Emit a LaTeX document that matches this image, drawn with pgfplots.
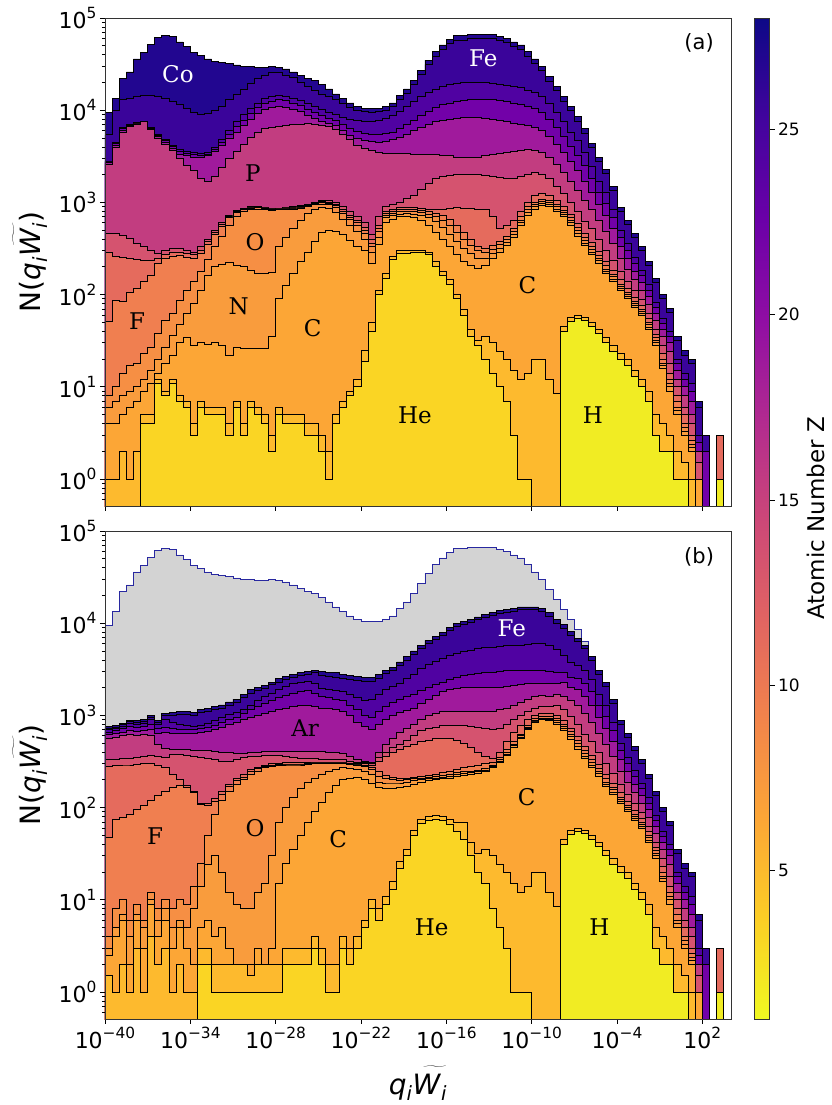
\documentclass[border=0pt]{standalone}
\usepackage{fontspec}
\setmainfont{DejaVu Sans}[ItalicFont={DejaVu Sans Oblique}]
\newfontfamily\serif{DejaVu Serif}
\usepackage{pgfplots}
\usepackage{pgfplotstable}
\pgfplotsset{compat=1.18}

\definecolor{cT}{RGB}{34,6,144}
\definecolor{cFE}{RGB}{58,4,154}
\definecolor{cMN}{RGB}{80,2,162}
\definecolor{cTI}{RGB}{114,1,168}
\definecolor{cCA}{RGB}{160,26,156}
\definecolor{cP}{RGB}{194,61,128}
\definecolor{cSI}{RGB}{213,83,111}
\definecolor{cNE}{RGB}{229,107,93}
\definecolor{cF}{RGB}{240,127,80}
\definecolor{cO}{RGB}{246,143,68}
\definecolor{cN}{RGB}{249,156,61}
\definecolor{cC}{RGB}{252,166,54}
\definecolor{cB}{RGB}{253,186,46}
\definecolor{cHE}{RGB}{250,213,36}
\definecolor{cH}{RGB}{241,236,35}
\definecolor{cGray}{RGB}{211,211,211}
\definecolor{cBlue}{RGB}{40,40,160}

\newcommand{\tenpow}[1]{10\raisebox{0.45em}{\fontsize{15.4}{15.4}\selectfont #1}}
\newcommand{\Wt}{\rlap{\raisebox{0.05em}{\scalebox{1.55}[1.15]{$\widetilde{\hbox{\phantom{\textit{W}}}}$}}}\textit{W}\textsubscript{\textit{i}}}
\newcommand{\qw}{\textit{q}\textsubscript{\textit{i}}\Wt}
\newcommand{\layer}[3]{\addplot[const plot mark left, fill=#2, draw=black, line width=0.8pt] table[x=X,y=#1]{#3} -- cycle;}
\tikzset{elab/.style={font=\serif\fontsize{23}{23}\selectfont}}

\pgfplotstableread{
X H HE B C N O F NE SI P CA TI MN FE T
-40.0 0.1 0.1 0.1 0.1 0.1 0.1 0.1 0.1 0.1 0.1 0.1 0.1 0.1 0.1 0.1
-40.0 0.1 0.1 1 4 6 8 51 290 460 2600 2700 2750 2800 5400 9500
-39.5 0.1 0.1 1 4 7 10 87 260 460 4000 4200 4350 4500 10000 13500
-39.0 0.1 0.1 2 5 8 14 85 255 440 5800 6100 6300 6500 13000 22000
-38.5 0.1 0.1 1 6 9 17 107 250 410 6600 6800 6900 7000 13500 26000
-38.0 0.1 0.1 2 7 10 18 116 240 360 7100 7250 7300 7400 14000 36000
-37.5 0.1 4 5 9 12 23 138 235 330 7500 7550 7580 7600 14500 42000
-37.0 0.1 4 5 11 15 27 163 235 300 6200 6350 6400 6500 14500 52000
-36.5 0.1 11 12 14 20 38 218 250 280 5000 5200 5350 5500 14000 62000
-36.0 0.1 8 9 18 27 53 247 270 300 4300 4500 4650 4800 13500 65000
-35.5 0.1 11 12 22 36 63 260 285 320 3700 3900 4050 4200 12500 63000
-35.0 0.1 7 8 30 48 87 265 290 320 3000 3300 3550 3800 11500 55000
-34.5 0.1 6 7 34 62 110 255 280 300 2500 3200 3400 3600 10500 49000
-34.0 0.1 3 4 28 80 140 250 275 290 2200 3100 3300 3500 9500 42000
-33.5 0.1 6 7 30 110 180 280 305 330 1800 3100 3250 3400 9100 39000
-33.0 0.1 5 6 29 160 240 350 375 400 1670 3200 3350 3500 9300 36000
-32.5 0.1 5 6 30 200 330 450 475 500 1900 3600 3800 4000 10000 34000
-32.0 0.1 5 6 28 215 430 550 575 600 2400 4200 4500 4800 11000 33000
-31.5 0.1 3 4 22 225 560 680 700 720 3000 5000 5500 6000 13000 32000
-31.0 0.1 6 7 27 210 700 780 800 820 3600 5800 6600 7500 15000 31000
-30.5 0.1 3 4 26 200 790 830 845 860 4300 6800 7800 9000 17000 30000
-30.0 0.1 6 7 26 185 840 870 885 900 5100 8000 9200 10500 19500 29500
-29.5 0.1 5 6 26 170 850 880 890 900 5800 9200 10600 12000 22000 29000
-29.0 0.1 4 5 26 170 830 860 870 880 6300 10200 11800 13500 24000 29000
-28.5 0.1 2 3 35 175 810 840 850 860 6500 10800 12600 14200 25500 29500
-28.0 0.1 5 6 90 330 830 850 860 870 6700 11000 13000 14500 25500 29000
-27.5 0.1 4 5 125 420 830 850 870 880 6800 10800 12700 14200 24000 28000
-27.0 0.1 4 5 170 520 850 870 890 900 7000 10300 12000 13500 22500 26000
-26.5 0.1 4 5 230 640 870 890 910 920 7100 9600 11200 12800 20000 24000
-26.0 0.1 3 4 290 760 900 930 950 960 7200 8800 10300 12000 18000 22000
-25.5 0.1 3 4 380 850 940 970 990 1000 7100 8200 9500 11000 16600 21000
-25.0 0.1 2 3 470 880 960 990 1020 1050 6900 7600 8800 10200 15000 19000
-24.5 0.1 1 2 500 870 950 980 1010 1050 6600 7200 8200 9500 14000 17000
-24.0 0.1 4 5 490 780 880 920 960 1000 6200 6800 7700 8900 13000 15000
-23.5 0.1 6 7 450 660 760 800 850 900 5500 6000 7000 8400 11800 13500
-23.0 0.1 8 9 390 560 650 690 730 800 4800 5300 6300 8000 10800 12000
-22.5 0.1 10 12 330 480 560 600 640 700 4200 4900 5900 7800 10000 11000
-22.0 0.1 19 25 300 400 460 500 530 600 3900 4700 5600 7600 9600 10500
-21.5 0.1 40 50 220 290 330 360 400 450 3700 4600 5500 7600 9500 10500
-21.0 0.1 100 110 350 420 480 520 560 700 3500 4500 5500 7800 9600 10500
-20.5 0.1 150 170 600 680 720 760 800 900 3400 4600 5600 8200 10000 11000
-20.0 0.1 240 260 660 720 760 800 850 950 3400 4800 5800 8800 11000 12000
-19.5 0.1 280 300 700 750 790 830 880 1000 3400 5100 6300 9800 13100 14600
-19.0 0.1 280 300 700 760 800 840 890 1100 3400 5500 7000 11000 15300 17000
-18.5 0.1 285 300 680 740 790 830 880 1200 3300 6000 7800 12500 18900 21000
-18.0 0.1 285 300 640 720 770 810 860 1400 3300 6500 8800 14000 24300 27000
-17.5 0.1 270 290 560 680 740 790 840 1600 3300 7000 9800 15500 31500 35000
-17.0 0.1 200 230 470 620 700 760 830 1800 3300 7500 10800 17000 38700 43000
-16.5 0.1 160 180 400 540 640 720 850 1900 3200 7800 11500 18000 45900 51000
-16.0 0.1 130 145 330 450 560 650 870 1950 3200 8000 12000 19000 53100 59000
-15.5 0.1 90 100 270 380 470 560 880 2000 3100 8200 12500 19500 57600 64000
-15.0 0.1 60 70 230 320 400 470 870 2000 3100 8300 12700 20000 57600 64000
-14.5 0.1 35 42 205 280 340 400 860 2000 3100 8400 13000 20000 59400 66000
-14.0 0.1 28 32 193 250 300 330 850 2000 3100 8300 13000 20000 59400 66000
-13.5 0.1 20 35 210 250 290 320 840 1950 3200 8200 13000 20000 59400 66000
-13.0 0.1 14 30 250 280 310 340 700 1900 3300 8000 13000 19500 59400 66000
-12.5 0.1 10 24 290 320 350 380 520 1850 3400 7800 12800 19000 56700 63000
-12.0 0.1 7 20 340 370 400 430 560 1800 3500 7500 12500 18500 54000 60000
-11.5 0.1 3 15 420 450 480 520 640 1800 3600 7200 12000 18000 49500 55000
-11.0 0.1 1 12 560 600 640 700 800 1900 3700 7000 11500 17500 45900 51000
-10.5 0.1 1 14 730 780 830 900 1000 2000 3800 6800 11000 16500 38700 43000
-10.0 0.1 0.1 20 850 900 950 1000 1200 2100 3700 6500 10500 15500 32400 36000
-9.5 0.1 0.1 20 920 970 1020 1080 1250 2000 3500 6000 9500 14000 27000 30000
-9.0 0.1 0.1 12 900 950 1000 1050 1200 1800 3100 5200 8000 12000 20700 23000
-8.5 0.1 0.1 8.5 800 850 900 950 1050 1500 2600 4300 6500 9500 16200 18000
-8.0 40 40 45 700 740 780 820 900 1250 2100 3500 5200 7500 12600 14000
-7.5 51 51 56 560 600 640 680 740 1000 1700 2800 4100 5800 9900 11000
-7.0 55 55 60 430 460 500 540 590 800 1350 2200 3200 4700 7650 8500
-6.5 52 52 57 340 360 390 420 460 620 1050 1700 2500 3500 5670 6300
-6.0 45 45 50 270 290 310 330 370 520 850 1300 1800 2450 3950 4400
-5.5 38 38 42 220 235 250 265 295 400 640 950 1300 1700 2800 3100
-5.0 30 30 34 170 180 190 205 230 300 480 720 980 1280 2050 2300
-4.5 24 24 28 140 148 156 166 185 235 360 520 680 830 1350 1500
-4.0 20 20 23 110 116 122 130 145 180 250 330 420 500 800 890
-3.5 17 17 20 90 95 100 106 117 140 190 245 300 355 575 640
-3.0 13 13 15 72 76 80 85 93 110 145 180 220 255 415 460
-2.5 10 10 12 60 63 66 70 76 88 110 135 160 185 300 330
-2.0 7 7 9 42 44 47 50 55 63 78 95 112 128 207 230
-1.5 3 3 5 28 30 32 34 37 42 52 62 73 83 135 150
-1.0 2 2 4 16 17 18 20 23 28 35 42 49 55 90 100
-0.5 2 2 3 9 10 11 12 14 18 24 30 35 40 64 71
0.0 1 1 2 5 5.5 6 7 8 10 12 15 18 20 32 35
0.5 1 1 1.5 3 3.3 3.6 4 5 6 8 10 12 14 22 25
1.0 0.1 0.1 1 2 2.2 2.4 2.6 3 4 5 7 9 11 18 20
1.5 0.1 0.1 0.1 1 1 1 1 1 1.5 2 2 2.5 3 6 7
2.0 0.1 0.1 0.1 0.1 0.1 0.1 0.1 0.1 0.1 0.1 0.1 2 2 3 3
2.5 0.1 0.1 0.1 0.1 0.1 0.1 0.1 0.1 0.1 0.1 0.1 0.1 0.1 0.1 0.1
3.0 1 1 1 1 1 1 1 3 3 3 3 3 3 3 3
3.5 0.1 0.1 0.1 0.1 0.1 0.1 0.1 0.1 0.1 0.1 0.1 0.1 0.1 0.1 0.1
}\tabA

\pgfplotstableread{
X H HE B C N O F NE SI P CA TI MN FE T G
-40.0 0.1 0.1 0.1 0.1 0.1 0.1 0.1 0.1 0.1 0.1 0.1 0.1 0.1 0.1 0.1 0.1
-40.0 0.1 0.1 1.5 2.5 3 4 47 280 330 560 620 660 700 730 760 9500
-39.5 0.1 0.1 1 4 5 8 74 285 335 580 640 690 720 750 780 13500
-39.0 0.1 0.1 2 6 7 10 78 290 340 600 660 720 760 790 820 22000
-38.5 0.1 0.1 1 2 4 6 85 290 345 620 690 760 820 860 890 26000
-38.0 0.1 0.1 3 6 7 9 95 295 350 610 670 740 800 840 880 36000
-37.5 0.1 0.1 1 3 5 6 105 300 360 620 680 760 820 860 900 42000
-37.0 0.1 0.1 4 9 10 12 120 300 370 600 700 790 900 950 1000 52000
-36.5 0.1 0.1 2 4 6 8 135 290 360 480 640 720 800 840 880 62000
-36.0 0.1 0.1 3 6 8 10 150 270 350 440 650 750 900 1000 1050 65000
-35.5 0.1 0.1 1 3 5 8 165 230 375 430 640 720 850 1000 1070 63000
-35.0 0.1 0.1 2 5 6 10 175 200 375 425 640 700 800 1020 1100 55000
-34.5 0.1 0.1 1 3 5 9 165 175 370 425 640 700 770 1020 1100 49000
-34.0 0.1 0.1 1 2 8 14 145 150 360 420 640 700 760 1000 1080 42000
-33.5 0.1 2 3 5 14 25 108 112 350 420 650 720 770 1070 1150 39000
-33.0 0.1 2 3 6 24 50 105 110 340 420 670 740 820 1110 1200 36000
-32.5 0.1 1 2 4 30 85 118 125 330 410 700 780 880 1160 1250 34000
-32.0 0.1 1 2 5 20 120 140 150 320 400 740 840 950 1200 1300 33000
-31.5 0.1 1 2 3 12 150 170 180 320 395 790 900 1020 1300 1400 32000
-31.0 0.1 1 2 2 9 180 195 205 330 390 840 960 1080 1400 1500 31000
-30.5 0.1 1 2 2 8 200 215 230 350 390 900 1050 1150 1580 1700 30000
-30.0 0.1 1 1.5 2 8 230 245 260 360 400 950 1150 1300 1750 1900 29500
-29.5 0.1 1 2 3 12 250 265 275 360 400 1000 1250 1450 1850 2000 29000
-29.0 0.1 1 2 2 15 270 280 290 365 405 1050 1350 1600 1950 2100 29000
-28.5 0.1 1 2 3 30 280 290 300 370 410 1100 1450 1750 2150 2300 29500
-28.0 0.1 1 2 15 70 285 295 305 370 410 1150 1550 1900 2300 2500 29000
-27.5 0.1 2 3 25 100 290 298 306 360 410 1200 1650 2050 2450 2650 28000
-27.0 0.1 2 3 35 130 290 298 306 350 410 1250 1750 2200 2600 2800 26000
-26.5 0.1 2 3 50 160 290 298 306 340 410 1270 1800 2300 2700 2900 24000
-26.0 0.1 2 3 70 190 295 302 310 340 410 1280 1850 2350 2800 3000 22000
-25.5 0.1 3 4 90 210 300 305 312 340 410 1250 1750 2200 2900 3100 21000
-25.0 0.1 2 3 115 230 300 305 312 335 405 1200 1600 1950 2700 3000 19000
-24.5 0.1 1 2 145 250 300 305 310 330 400 1180 1550 1900 2650 2950 17000
-24.0 0.1 1 2 175 260 300 305 310 330 400 1150 1500 1850 2600 2900 15000
-23.5 0.1 3 4 200 270 300 305 310 330 390 1100 1450 1800 2550 2800 13500
-23.0 0.1 2 3 210 265 295 300 305 320 360 1000 1300 1700 2450 2700 12000
-22.5 0.1 3 4 215 260 290 295 300 310 330 850 1150 1550 2400 2650 11000
-22.0 0.1 5 6 200 250 280 290 300 310 320 760 1000 1450 2350 2600 10500
-21.5 0.1 8 10 185 230 260 275 290 300 310 700 950 1500 2350 2600 10500
-21.0 0.1 6 8 165 190 220 250 320 350 400 800 1100 1700 2550 2800 10500
-20.5 0.1 9 11 160 185 205 225 360 400 480 900 1250 1900 2850 3100 11000
-20.0 0.1 13 16 160 185 200 215 400 450 560 1000 1400 2050 3050 3300 12000
-19.5 0.1 22 26 165 185 195 205 430 490 650 1070 1500 2200 3500 3800 14600
-19.0 0.1 30 35 170 190 200 210 460 540 720 1120 1600 2500 4000 4400 17000
-18.5 0.1 50 56 180 195 205 215 490 600 800 1200 1700 2800 4600 5000 21000
-18.0 0.1 68 75 190 200 210 220 520 680 900 1350 1850 3200 5300 5700 27000
-17.5 0.1 72 80 195 205 215 225 540 720 1000 1500 2000 3600 6000 6500 35000
-17.0 0.1 74 82 200 210 220 230 560 750 1050 1650 2150 3900 6700 7200 43000
-16.5 0.1 72 80 205 215 225 240 570 770 1100 1800 2300 4200 7400 8000 51000
-16.0 0.1 66 74 210 220 230 250 560 780 1100 1900 2450 4500 8400 9000 59000
-15.5 0.1 55 70 220 230 240 260 540 780 1100 1950 2600 4700 9300 10000 64000
-15.0 0.1 45 70 225 235 245 270 500 770 1100 2000 2700 4900 9800 10500 64000
-14.5 0.1 30 42 230 240 250 280 450 760 1100 2000 2800 5100 10300 11000 66000
-14.0 0.1 20 32 235 245 255 290 400 740 1100 2000 2850 5300 10900 11700 66000
-13.5 0.1 15 35 245 255 265 300 360 720 1100 2000 2900 5400 11600 12500 66000
-13.0 0.1 8 30 270 280 290 310 340 700 1100 2000 2950 5500 12100 13000 66000
-12.5 0.1 5 24 310 320 330 350 400 720 1150 2000 3000 5600 12700 13700 63000
-12.0 0.1 3 20 370 380 400 430 520 800 1200 2050 3050 5700 13200 14200 60000
-11.5 0.1 1 15 450 470 490 520 650 900 1300 2100 3100 5800 13500 14500 55000
-11.0 0.1 1 12 560 580 600 630 780 1000 1400 2150 3100 5800 14000 15000 51000
-10.5 0.1 1 14 700 720 740 770 900 1100 1500 2200 3100 5900 14000 15000 43000
-10.0 0.1 0.1 20 850 870 890 920 1000 1200 1600 2250 3100 6000 14000 15000 36000
-9.5 0.1 0.1 20 900 920 940 970 1050 1250 1650 2250 3050 6100 13500 14500 30000
-9.0 0.1 0.1 12 880 910 940 980 1050 1250 1600 2200 3000 5800 12000 13000 23000
-8.5 0.1 0.1 8.5 790 840 880 930 1000 1300 1700 2200 2900 5200 10000 11000 18000
-8.0 40 40 45 680 720 760 800 880 1150 1600 2300 2900 4500 8800 9600 14000
-7.5 51 51 56 550 590 630 670 730 980 1450 2000 2600 3800 7400 8100 11000
-7.0 55 55 60 430 460 500 540 590 800 1300 1900 2500 3500 6300 6900 8500
-6.5 52 52 57 340 360 390 420 460 620 1050 1600 2200 3100 5300 5800 6300
-6.0 45 45 50 270 290 310 330 370 520 850 1300 1800 2450 3950 4400 4400
-5.5 38 38 42 220 235 250 265 295 400 640 950 1300 1700 2800 3100 3100
-5.0 30 30 34 170 180 190 205 230 300 480 720 980 1280 2050 2300 2300
-4.5 24 24 28 140 148 156 166 185 235 360 520 680 830 1350 1500 1500
-4.0 20 20 23 110 116 122 130 145 180 250 330 420 500 800 890 890
-3.5 17 17 20 90 95 100 106 117 140 190 245 300 355 575 640 640
-3.0 13 13 15 72 76 80 85 93 110 145 180 220 255 415 460 460
-2.5 10 10 12 60 63 66 70 76 88 110 135 160 185 300 330 330
-2.0 7 7 9 42 44 47 50 55 63 78 95 112 128 207 230 230
-1.5 3 3 5 28 30 32 34 37 42 52 62 73 83 135 150 150
-1.0 2 2 4 16 17 18 20 23 28 35 42 49 55 90 100 100
-0.5 2 2 3 9 10 11 12 14 18 24 30 35 40 64 71 71
0.0 1 1 2 5 5.5 6 7 8 10 12 15 18 20 32 35 35
0.5 1 1 1.5 3 3.3 3.6 4 5 6 8 10 12 14 22 25 25
1.0 0.1 0.1 1 2 2.2 2.4 2.6 3 4 5 7 9 11 18 20 20
1.5 0.1 0.1 0.1 1 1 1 1 1 1.5 2 2 2.5 3 6 7 7
2.0 0.1 0.1 0.1 0.1 0.1 0.1 0.1 0.1 0.1 0.1 0.1 2 2 3 3 3
2.5 0.1 0.1 0.1 0.1 0.1 0.1 0.1 0.1 0.1 0.1 0.1 0.1 0.1 0.1 0.1 0.1
3.0 1 1 1 1 1 1 1 3 3 3 3 3 3 3 3 3
3.5 0.1 0.1 0.1 0.1 0.1 0.1 0.1 0.1 0.1 0.1 0.1 0.1 0.1 0.1 0.1 0.1
}\tabB

\begin{document}
\begin{tikzpicture}
\useasboundingbox (-105pt,18pt) rectangle (726pt,-1087pt);

% ---------- panel (a)
\begin{axis}[at={(0pt,0pt)}, anchor=north west, scale only axis, width=626pt, height=488pt,
    xmin=-40, xmax=4.02, ymode=log, ymin=0.51, ymax=1e5,
    enlargelimits=false, axis on top, clip=true,
    xtick={-40,-34,-28,-22,-16,-10,-4,2}, xticklabels={},
    ytick={1,10,100,1000,10000,100000},
    yticklabels={\tenpow{0},\tenpow{1},\tenpow{2},\tenpow{3},\tenpow{4},\tenpow{5}},
    minor ytick={0.6,0.7,0.8,0.9,2,3,4,5,6,7,8,9,20,30,40,50,60,70,80,90,200,300,400,500,600,700,800,900,2000,3000,4000,5000,6000,7000,8000,9000,20000,30000,40000,50000,60000,70000,80000,90000},
    tick pos=left, tick align=outside,
    major tick length=5pt, minor tick length=3pt,
    every tick/.style={black, line width=0.8pt},
    axis line style={black!80, line width=0.8pt},
    ticklabel style={font=\fontsize{22}{22}\selectfont},
    ylabel={N(\qw)},
    ylabel style={font=\fontsize{28}{28}\selectfont, at={(axis description cs:-0.12,0.5)}, anchor=center}]
\layer{T}{cT}{\tabA}
\layer{FE}{cFE}{\tabA}
\layer{MN}{cMN}{\tabA}
\layer{TI}{cTI}{\tabA}
\layer{CA}{cCA}{\tabA}
\layer{P}{cP}{\tabA}
\layer{SI}{cSI}{\tabA}
\layer{NE}{cNE}{\tabA}
\layer{F}{cF}{\tabA}
\layer{O}{cO}{\tabA}
\layer{N}{cN}{\tabA}
\layer{C}{cC}{\tabA}
\layer{B}{cB}{\tabA}
\layer{HE}{cHE}{\tabA}
\layer{H}{cH}{\tabA}
\node[elab, text=white] at (axis cs:-34.87,24600) {Co};
\node[elab, text=white] at (axis cs:-13.4,37000) {Fe};
\node[elab] at (axis cs:-29.6,2100) {P};
\node[elab] at (axis cs:-29.45,370) {O};
\node[elab] at (axis cs:-30.6,74) {N};
\node[elab] at (axis cs:-37.75,51) {F};
\node[elab] at (axis cs:-25.4,43) {C};
\node[elab] at (axis cs:-18.2,4.9) {He};
\node[elab] at (axis cs:-10.3,127) {C};
\node[elab] at (axis cs:-5.7,4.9) {H};
\node[font=\fontsize{21}{21}\selectfont] at (rel axis cs:0.949,0.949) {(a)};
\end{axis}

% ---------- panel (b)
\begin{axis}[at={(0pt,-513pt)}, anchor=north west, scale only axis, width=626pt, height=488pt,
    xmin=-40, xmax=4.02, ymode=log, ymin=0.51, ymax=1e5,
    enlargelimits=false, axis on top, clip=true,
    xtick={-40,-34,-28,-22,-16,-10,-4,2},
    xticklabels={\tenpow{−40},\tenpow{−34},\tenpow{−28},\tenpow{−22},\tenpow{−16},\tenpow{−10},\tenpow{−4},\tenpow{2}},
    ytick={1,10,100,1000,10000,100000},
    yticklabels={\tenpow{0},\tenpow{1},\tenpow{2},\tenpow{3},\tenpow{4},\tenpow{5}},
    minor ytick={0.6,0.7,0.8,0.9,2,3,4,5,6,7,8,9,20,30,40,50,60,70,80,90,200,300,400,500,600,700,800,900,2000,3000,4000,5000,6000,7000,8000,9000,20000,30000,40000,50000,60000,70000,80000,90000},
    tick pos=left, tick align=outside,
    major tick length=5pt, minor tick length=3pt,
    every tick/.style={black, line width=0.8pt},
    axis line style={black!80, line width=0.8pt},
    ticklabel style={font=\fontsize{22}{22}\selectfont},
    ylabel={N(\qw)},
    ylabel style={font=\fontsize{28}{28}\selectfont, at={(axis description cs:-0.12,0.5)}, anchor=center},
    xlabel={\qw},
    xlabel style={font=\fontsize{28}{28}\selectfont, at={(axis description cs:0.5,-0.132)}, anchor=center}]
\addplot[const plot mark left, fill=cGray, draw=cBlue, line width=0.8pt] table[x=X,y=G]{\tabB} -- cycle;
\layer{T}{cT}{\tabB}
\layer{FE}{cFE}{\tabB}
\layer{MN}{cMN}{\tabB}
\layer{TI}{cTI}{\tabB}
\layer{CA}{cCA}{\tabB}
\layer{P}{cP}{\tabB}
\layer{SI}{cSI}{\tabB}
\layer{NE}{cNE}{\tabB}
\layer{F}{cF}{\tabB}
\layer{O}{cO}{\tabB}
\layer{N}{cN}{\tabB}
\layer{C}{cC}{\tabB}
\layer{B}{cB}{\tabB}
\layer{HE}{cHE}{\tabB}
\layer{H}{cH}{\tabB}
\node[elab, text=white] at (axis cs:-11.4,8900) {Fe};
\node[elab] at (axis cs:-25.93,730) {Ar};
\node[elab] at (axis cs:-36.48,49) {F};
\node[elab] at (axis cs:-29.45,60) {O};
\node[elab] at (axis cs:-23.6,45) {C};
\node[elab] at (axis cs:-10.35,129) {C};
\node[elab] at (axis cs:-17.03,5.0) {He};
\node[elab] at (axis cs:-5.24,5.0) {H};
\node[font=\fontsize{21}{21}\selectfont] at (rel axis cs:0.949,0.947) {(b)};
\end{axis}

% ---------- colorbar
\begin{axis}[at={(0pt,0pt)}, anchor=north west, scale only axis, width=626pt, height=1001pt,
  hide axis, xmin=0, xmax=1, ymin=0, ymax=1,
  colormap={plasmar}{rgb255=(240,249,33) rgb255=(252,206,37) rgb255=(252,166,54) rgb255=(242,132,75) rgb255=(225,100,98) rgb255=(204,71,120) rgb255=(177,42,144) rgb255=(143,13,164) rgb255=(106,0,168) rgb255=(65,4,157) rgb255=(13,8,135)},
  point meta min=1, point meta max=28,
  colorbar,
  colorbar style={at={(parent axis.north east)}, anchor=north west, xshift=15pt,
    width=15pt, scale only axis,
    ytick={5,10,15,20,25}, yticklabels={5,10,15,20,25},
    ytick pos=right, yticklabel pos=right,
    tick align=outside, major tick length=5pt,
    every tick/.style={black, line width=0.8pt},
    axis line style={black!80, line width=0.8pt},
    yticklabel style={font=\fontsize{17}{17}\selectfont},
    ylabel={Atomic Number Z},
    ylabel style={font=\fontsize{23}{23}\selectfont, at={(axis description cs:4.1,0.5)}, anchor=center},
  }]
\addplot[draw=none] coordinates {(0,0)};
\end{axis}
\end{tikzpicture}
\end{document}
